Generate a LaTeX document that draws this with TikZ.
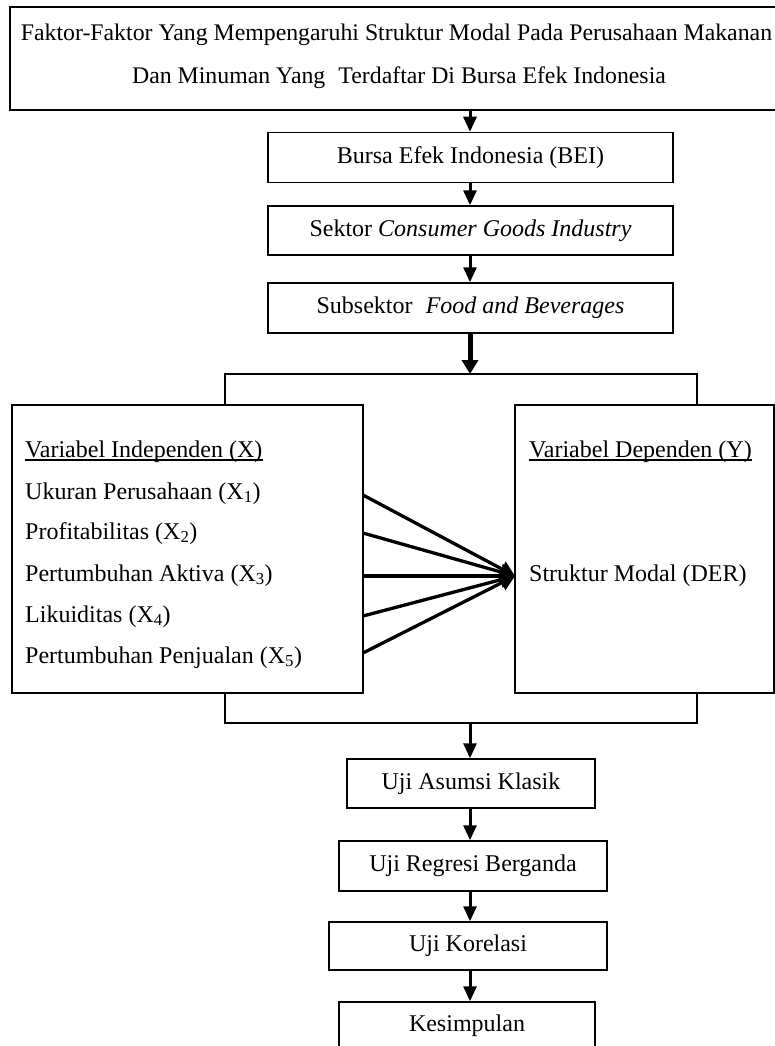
\documentclass[tikz,border=0pt]{standalone}
\usepackage{fontspec}
\setmainfont{Liberation Serif}
\usetikzlibrary{arrows.meta}
\begin{document}
\begin{tikzpicture}[x=1pt,y=-1pt,
  box/.style={draw, line width=1.5pt, rectangle, inner sep=0pt, align=center,
    font=\fontsize{24}{28}\selectfont},
  lbl/.style={anchor=base west, inner sep=0pt, font=\fontsize{24}{28}\selectfont},
  varr/.style={line width=3pt, -{Triangle[length=15pt,width=13pt]}},
  thickarr/.style={line width=5pt, -{Triangle[length=14pt,width=16pt]}},
  conv/.style={line width=3.3pt, -{Triangle[length=15pt,width=16pt]}},
  brk/.style={line width=1.5pt},
  uline/.style={line width=1.6pt}]
\clip (0,0) rectangle (775,1046);
\useasboundingbox (0,0) rectangle (775,1046);
\fill[white] (0,0) rectangle (775,1046);

% axis for vertical arrows
\coordinate (axis) at (470,0);

% top box
\node[box, minimum width=778pt, minimum height=103pt] (top) at (399,58.5) {};
\node[inner sep=0pt, align=center, font=\fontsize{23.8}{43}\selectfont]
  (toptext) at (396.5,56.5)
  {Faktor-Faktor Yang Mempengaruhi Struktur Modal Pada Perusahaan Makanan\\
   \hspace*{5pt}Dan Minuman Yang\hspace{0.3em} Terdaftar Di Bursa Efek Indonesia};

\node[box, minimum width=405pt, minimum height=50pt] (bei) at (470.5,157.5)
  {Bursa Efek Indonesia (BEI)};
\node[box, minimum width=405pt, minimum height=49pt] (sek) at (470.5,230.5)
  {Sektor \textit{Consumer Goods Industry}};
\node[box, minimum width=405pt, minimum height=50pt] (sub) at (470.5,308)
  {Subsektor\hspace{0.3em} \textit{Food and Beverages}};

% variable boxes
\node[box, minimum width=351pt, minimum height=288pt] (L) at (187.5,549) {};
\node[box, minimum width=259pt, minimum height=288pt] (R) at (644.5,549) {};

\node[lbl] (vi) at (25,457) {Variabel Independen (X)};
\draw[uline] ([yshift=-3pt]vi.base west) -- ([yshift=-3pt]vi.base east);
\node[lbl] (x1) at (25,499) {Ukuran Perusahaan (X\textsubscript{1})};
\node[lbl] (x2) at (25,539) {Profitabilitas (X\textsubscript{2})};
\node[lbl] (x3) at (25,581) {Pertumbuhan Aktiva (X\textsubscript{3})};
\node[lbl] (x4) at (25,622) {Likuiditas (X\textsubscript{4})};
\node[lbl] (x5) at (25,663) {Pertumbuhan Penjualan (X\textsubscript{5})};

\node[lbl] (vd) at (529,457) {Variabel Dependen (Y)};
\draw[uline] ([yshift=-3pt]vd.base west) -- ([yshift=-3pt]vd.base east);
\node[lbl] (y) at (529,581) {Struktur Modal (DER)};

% converging arrows
\coordinate (s1) at (363,495);
\coordinate (s2) at (363,533);
\coordinate (s3) at (363,576);
\coordinate (s4) at (363,616);
\coordinate (s5) at (363,653);
\coordinate (tg) at (515,576);
\draw[conv] (s1) -- (tg);
\draw[conv] (s2) -- (tg);
\draw[conv, line width=4pt] (s3) -- (tg);
\draw[conv] (s4) -- (tg);
\draw[conv] (s5) -- (tg);

% brackets
\coordinate (bTL) at (225,374);
\coordinate (bTR) at (697,374);
\coordinate (bBL) at (225,723);
\coordinate (bBR) at (697,723);
\draw[brk] (L.north -| bTL) -- (bTL) -- (bTR) -- (R.north -| bTR);
\draw[brk] (L.south -| bBL) -- (bBL) -- (bBR) -- (R.south -| bBR);

% bottom boxes
\node[box, minimum width=248pt, minimum height=49pt] (asu) at (471,783.5)
  {Uji Asumsi Klasik};
\node[box, minimum width=268pt, minimum height=50pt] (reg) at (473,866)
  {Uji Regresi Berganda};
\node[box, minimum width=278pt, minimum height=48pt] (kor) at (468,946)
  {Uji Korelasi};
\node[box, minimum width=256pt, minimum height=48pt] (kes) at (467,1026)
  {Kesimpulan};

% vertical arrows
\draw[varr] (top.south -| axis) -- (bei.north -| axis);
\draw[varr] (bei.south -| axis) -- (sek.north -| axis);
\draw[varr] (sek.south -| axis) -- (sub.north -| axis);
\draw[thickarr] (sub.south -| axis) -- (bTL -| axis);
\draw[varr] (bBL -| axis) -- (asu.north -| axis);
\draw[varr] (asu.south -| axis) -- (reg.north -| axis);
\draw[varr] (reg.south -| axis) -- (kor.north -| axis);
\draw[varr] (kor.south -| axis) -- (kes.north -| axis);
\end{tikzpicture}
\end{document}
